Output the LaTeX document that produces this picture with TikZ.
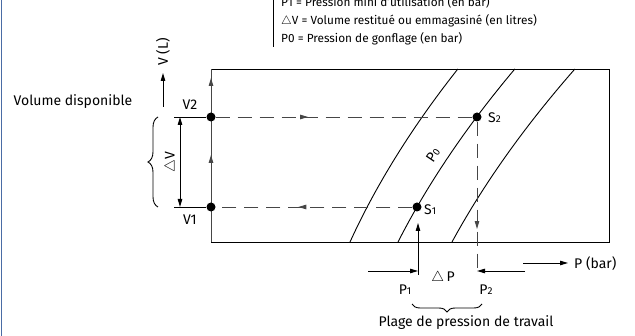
\documentclass[tikz,border=0pt]{standalone}
\usepackage{fontspec}
\setmainfont{Fira Sans}
\usetikzlibrary{arrows.meta,decorations.markings,decorations.pathreplacing}
\newcommand{\smallnum}[1]{{\fontsize{10}{10}\selectfont #1}}
\definecolor{frameblue}{RGB}{74,108,165}
\definecolor{axisgrey}{RGB}{70,70,70}
\begin{document}
\begin{tikzpicture}[x=1pt,y=-1pt,
  >={Triangle[length=8pt,width=4.5pt]},
  ln/.style={line width=0.9pt,black},
  dsh/.style={line width=0.9pt,axisgrey,dash pattern=on 14pt off 8pt},
  midarrow/.style={postaction={decorate},decoration={markings,mark=at position #1 with {\arrow{>}}}},
  dotnode/.style={circle,fill=black,inner sep=0pt,minimum size=9pt},
  lbl/.style={font=\fontsize{14}{16}\selectfont,inner sep=0pt},
  leg/.style={font=\fontsize{11.8}{13}\selectfont,inner sep=0pt,anchor=west},
  bracestyle/.style={ln,decorate,decoration={brace,amplitude=#1}}]
\useasboundingbox (0,0) rectangle (635,336);
\draw[frameblue,line width=1.2pt] (1.5,0) -- (1.5,336);

% legend
\draw[ln] (273,0) coordinate (lgt) -- (273,47) coordinate (lgb);
\node[leg] (leg1) at (281,2) {P1 = Pression mini d'utilisation (en bar)};
\node[leg] (leg2) at (281,21) {$\triangle$V = Volume restitué ou emmagasiné (en litres)};
\node[leg] (leg3) at (281,39) {P0 = Pression de gonflage (en bar)};

% rectangle
\coordinate (tl) at (211,69);
\coordinate (tr) at (609,69);
\coordinate (br) at (609,242);
\coordinate (bl) at (211,242);
\draw[ln] (tl) -- (tr) -- (br) -- (bl);
\draw[line width=1pt,axisgrey,postaction={decorate},
  decoration={markings,mark=at position 0.503 with {\arrow{>}},mark=at position 0.948 with {\arrow{>}}}]
  (bl) -- (tl);

% curves
\draw[ln] plot[domain=0:173,samples=50] ({350+0.457*\x+0.000967*\x*\x},{242-\x});
\draw[ln] plot[domain=0:173,samples=50] ({398+0.509*\x+0.000967*\x*\x},{242-\x});
\draw[ln] plot[domain=0:173,samples=50] ({452+0.544*\x+0.000967*\x*\x},{242-\x});
\node[lbl,rotate=56] (p0) at (433,155) {P\smallnum{0}};

% points
\node[dotnode] (v2) at (211,117) {};
\node[dotnode] (v1) at (211,207) {};
\node[dotnode] (s2) at (477,117) {};
\node[dotnode] (s1) at (417,207) {};
\node[lbl,anchor=west] (s2l) at (488,118) {S\smallnum{2}};
\node[lbl,anchor=west] (s1l) at (424,210) {S\smallnum{1}};

% dashed cycle
\draw[dsh,midarrow=0.36] (v2) -- (s2);
\draw[dsh,midarrow=0.58] (s1) -- (v1);
\coordinate (p2b) at (477,275);
\draw[dsh,midarrow=0.70] (s2) -- (p2b);
\coordinate (p1b) at (418,275);
\coordinate (p1t) at (418,223);
\draw[ln,->] (p1b) -- (p1t);

% V labels and axis
\coordinate (v2l) at (174,117);
\coordinate (v1l) at (174,207);
\draw[ln] (v2l) -- (v2);
\draw[ln] (v1l) -- (v1);
\coordinate (dvt) at (180,117);
\coordinate (dvb) at (180,207);
\draw[ln,<->] (dvb) -- (dvt);
\node[lbl,rotate=90] (dv) at (171,162) {$\triangle$V};
\draw[bracestyle=10pt] (158,207) coordinate (brb) -- (158,117) coordinate (brt);
\node[lbl] (v2t) at (190,105) {V2};
\node[lbl] (v1t) at (190,220) {V1};
\node[lbl] (voldisp) at (73,102) {Volume disponible};
\coordinate (vax0) at (163,107);
\coordinate (vax1) at (163,73);
\draw[ln,->] (vax0) -- (vax1);
\node[lbl,rotate=90] (vaxl) at (163,52) {V (L)};

% P axis
\coordinate (pax0) at (523,263);
\coordinate (pax1) at (568,263);
\draw[ln,->] (pax0) -- (pax1);
\node[lbl,anchor=west] (paxl) at (574,264) {P (bar)};
\coordinate (dpl0) at (368,271);
\coordinate (dpl1) at (418,271);
\coordinate (dpr0) at (525,271);
\coordinate (dpr1) at (477,271);
\draw[ln,->] (dpl0) -- (dpl1);
\draw[ln,->] (dpr0) -- (dpr1);
\node[lbl] (dp) at (443,278) {$\triangle$\,P};
\node[lbl] (p1) at (405,290) {P\smallnum{1}};
\node[lbl] (p2) at (486,290) {P\smallnum{2}};
\draw[bracestyle=8pt] (482,304) coordinate (ubr) -- (412,304) coordinate (ubl);
\node[lbl] (plage) at (466,323) {Plage de pression de travail};
\end{tikzpicture}
\end{document}
